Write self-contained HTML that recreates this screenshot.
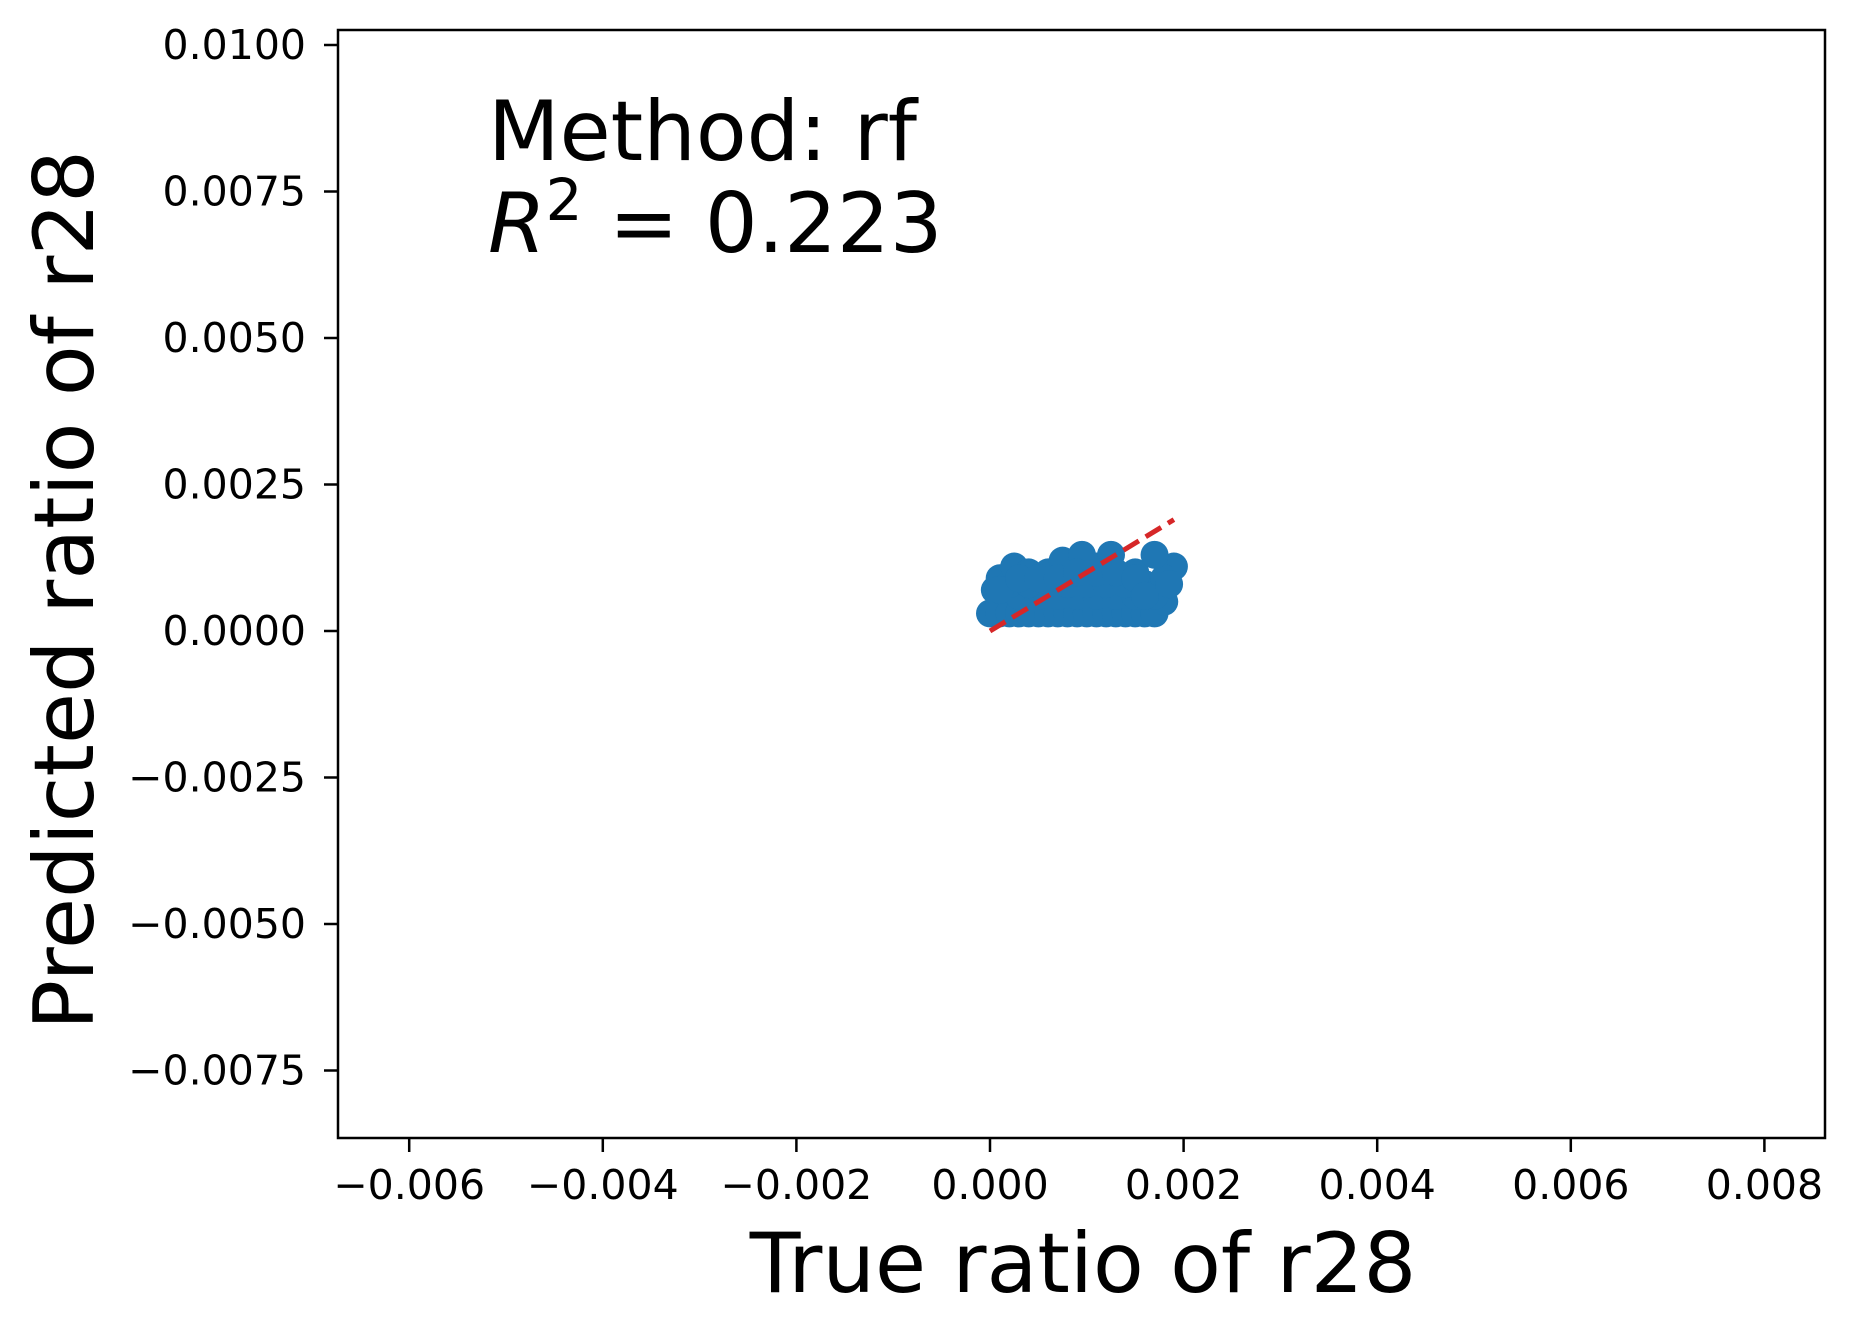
<!DOCTYPE html>
<html><head><meta charset="utf-8"><style>
body{margin:0;background:#fff;}
svg text{font-family:"DejaVu Sans","Liberation Sans",sans-serif;fill:#000;}
</style></head><body>
<svg id="chart" width="1855" height="1336" xmlns="http://www.w3.org/2000/svg">
<rect width="1855" height="1336" fill="#fff"/>
<g id="points"></g>
<g id="fit"></g>
<rect x="338" y="30" width="1487" height="1108" fill="none" stroke="#000" stroke-width="2.5"/>
<g id="xt"></g>
<g id="yt"></g>
<text x="1083" y="1292" font-size="83" text-anchor="middle">True ratio of r28</text>
<text transform="translate(93,590) rotate(-90)" font-size="83" text-anchor="middle">Predicted ratio of r28</text>
<text x="488" y="160" font-size="83">Method: rf</text>
<text x="488" y="252" font-size="83"><tspan font-style="italic">R</tspan><tspan dy="-32" font-size="58">2</tspan><tspan dy="32"> = 0.223</tspan></text>
</svg>
<script>
const xTicks=[-0.006,-0.004,-0.002,0.000,0.002,0.004,0.006,0.008];
const xTickLabels=["−0.006","−0.004","−0.002","0.000","0.002","0.004","0.006","0.008"];
const yTicks=[0.01,0.0075,0.005,0.0025,0,-0.0025,-0.005,-0.0075];
const yTickLabels=["0.0100","0.0075","0.0050","0.0025","0.0000","−0.0025","−0.0050","−0.0075"];
const trueX=[0,0.0001,0.0002,0.00005,0.0001,0.0002,0.0003,0.0004,0.0005,0.0006,0.0007,0.0008,0.0009,0.001,0.0011,0.0012,0.0013,0.0014,0.0015,0.0016,0.0017,0.0018,0.0001,0.0003,0.0005,0.0007,0.0009,0.0011,0.0013,0.0015,0.0017,0.0019,0.0002,0.0004,0.0006,0.0008,0.001,0.0012,0.0014,0.0016,0.0018,0.00025,0.0004,0.0006,0.00075,0.00095,0.0011,0.00125,0.0015,0.0017,0.0001,0.0003,0.0005,0.0007,0.0009,0.0011,0.0013,0.0015,0.0016,0.00185];
const predY=[0.0003,0.0005,0.0004,0.0007,0.0003,0.0003,0.0003,0.0003,0.0003,0.0003,0.0003,0.0003,0.0003,0.0003,0.0003,0.0003,0.0003,0.0003,0.0003,0.0003,0.0003,0.0005,0.0009,0.0006,0.0006,0.0006,0.0006,0.0006,0.0006,0.0006,0.0006,0.0011,0.0008,0.0008,0.0008,0.0008,0.0008,0.0008,0.0008,0.0008,0.0009,0.0011,0.0010,0.0010,0.0012,0.0013,0.0011,0.0013,0.0010,0.0013,0.0007,0.0009,0.0009,0.0009,0.0010,0.0010,0.0010,0.0009,0.0006,0.0008];
const lineX=[0,0.0019];
const lineY=[0,0.0019];
const X0=990,XS=193.6/0.002,Y0=631,YS=146.5/0.0025;
function sx(v){return X0+v*XS;}
function sy(v){return Y0-v*YS;}
const ns="http://www.w3.org/2000/svg";
function mk(t,a,p){const e=document.createElementNS(ns,t);for(const k in a)e.setAttribute(k,a[k]);p.appendChild(e);return e;}
const xt=document.getElementById('xt');
xTicks.forEach((v,i)=>{
 const l=mk('line',{x1:sx(v),x2:sx(v),y1:1138,y2:1152,stroke:'#000','stroke-width':2.5},xt);
 
 
 const t=mk('text',{x:sx(v),y:1199,'font-size':41,'text-anchor':'middle'},xt);
 t.textContent=xTickLabels[i];
 
 
});
const yt=document.getElementById('yt');
yTicks.forEach((v,i)=>{
 const l=mk('line',{x1:324,x2:338,y1:sy(v),y2:sy(v),stroke:'#000','stroke-width':2.5},yt);
 
 
 const t=mk('text',{x:306,y:sy(v)+14,'font-size':41,'text-anchor':'end'},yt);
 t.textContent=yTickLabels[i];
 
 
});
const pg=document.getElementById('points');
trueX.forEach((v,i)=>{
 const c=mk('circle',{cx:sx(v),cy:sy(predY[i]),r:14,fill:'#1f77b4'},pg);
 
 
});
const fl=mk('line',{x1:sx(lineX[0]),y1:sy(lineY[0]),x2:sx(lineX[1]),y2:sy(lineY[1]),stroke:'#d62728','stroke-width':5,'stroke-dasharray':'18 8'},document.getElementById('fit'));


</script>
</body></html>
